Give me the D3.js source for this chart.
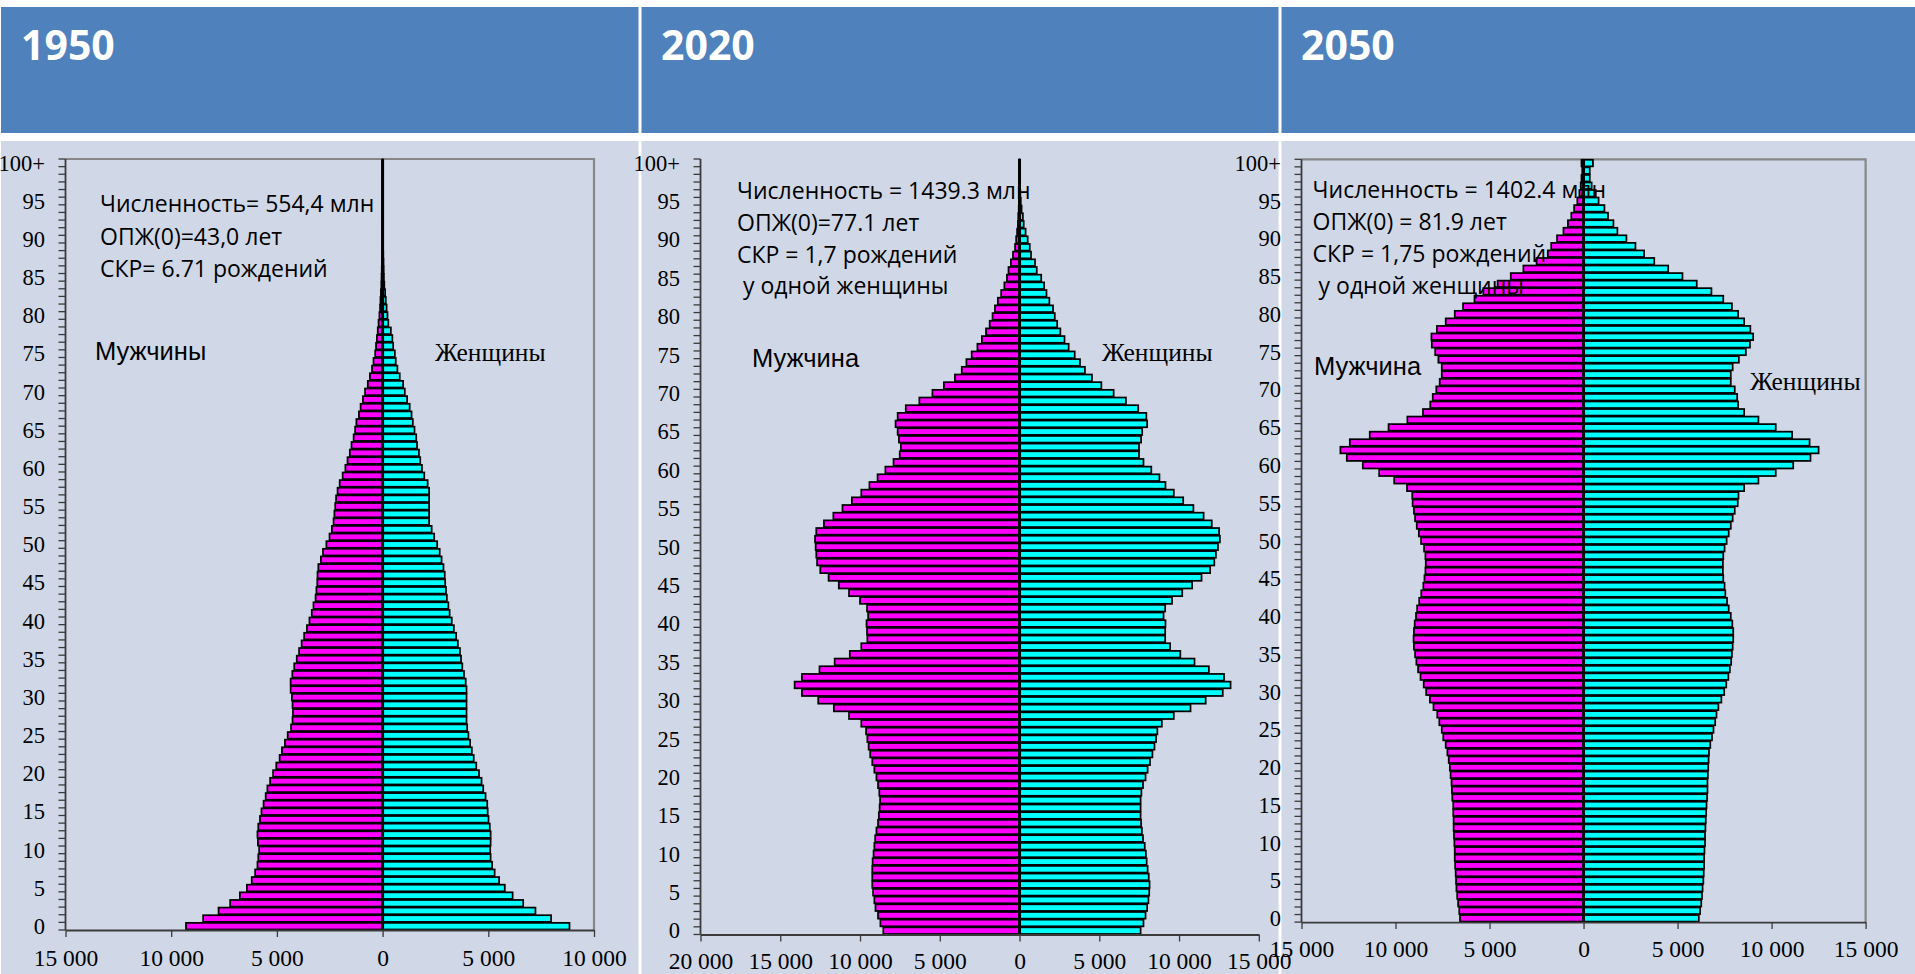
<!DOCTYPE html>
<html><head><meta charset="utf-8">
<script src="https://cdn.jsdelivr.net/npm/d3@7"></script>
<style>html,body{margin:0;padding:0;background:#fff;overflow:hidden}</style>
</head><body>
<svg id="chart" width="1915" height="974"></svg>
<script>
// ---------------- DATA (thousands of people, ages 0..100+) ----------------
const ages = [0,1,2,3,4,5,6,7,8,9,10,11,12,13,14,15,16,17,18,19,20,21,22,23,24,25,26,27,28,29,30,31,32,33,34,35,36,37,38,39,40,41,42,43,44,45,46,47,48,49,50,51,52,53,54,55,56,57,58,59,60,61,62,63,64,65,66,67,68,69,70,71,72,73,74,75,76,77,78,79,80,81,82,83,84,85,86,87,88,89,90,91,92,93,94,95,96,97,98,99,100];
const ageTickLabels = ["0","5","10","15","20","25","30","35","40","45","50","55","60","65","70","75","80","85","90","95","100+"];
const years = ["1950","2020","2050"];

const male1950 = [9300,8490,7760,7210,6750,6420,6190,6030,5920,5880,5840,5900,5920,5880,5800,5730,5630,5530,5450,5320,5180,5030,4870,4760,4620,4490,4330,4260,4240,4260,4290,4350,4350,4270,4180,4060,3950,3830,3710,3580,3460,3350,3270,3170,3130,3090,3080,3040,2920,2820,2660,2510,2400,2320,2280,2240,2200,2130,2030,1890,1760,1660,1550,1470,1370,1300,1240,1120,1040,930,830,700,600,500,430,350,310,270,230,190,150,120,100,80,60,50,40,30,25,20,15,12,10,8,6,5,4,3,2,1,1];
const female1950 = [8840,7970,7230,6650,6150,5780,5510,5300,5180,5110,5090,5110,5110,5070,5010,4970,4950,4870,4760,4680,4560,4430,4310,4220,4140,4060,4000,3970,3970,3970,3970,3970,3930,3850,3770,3710,3660,3560,3480,3370,3270,3170,3110,3040,3000,2960,2940,2880,2790,2700,2580,2440,2320,2200,2200,2200,2200,2200,2130,1970,1860,1780,1720,1630,1590,1510,1430,1370,1280,1160,1050,970,810,700,620,580,500,460,390,270,230,190,150,120,80,60,50,40,30,25,20,15,12,10,8,6,5,4,3,2,2];

const male2020 = [8540,8720,8870,9030,9100,9180,9230,9230,9230,9210,9150,9100,9050,8970,8870,8820,8770,8740,8790,8870,8970,9100,9230,9360,9460,9540,9620,9920,10690,11640,12620,13640,14100,13640,12540,11590,10640,9920,9540,9560,9590,9490,9560,10000,10690,11330,11970,12490,12690,12740,12780,12820,12740,12260,11670,11100,10510,9920,9410,8900,8410,7900,7510,7440,7560,7640,7770,7640,7130,6280,5460,4740,4050,3620,3330,3000,2640,2360,2100,1870,1690,1540,1360,1150,950,790,690,540,410,280,210,150,100,80,50,30,20,10,10,5,5];
const female2020 = [7590,7770,7900,8000,8080,8130,8150,8100,8030,7970,7920,7850,7740,7670,7620,7590,7590,7590,7640,7740,7900,8030,8180,8330,8460,8560,8640,8920,9670,10720,11670,12740,13230,12820,11870,10970,10080,9440,9130,9130,9150,9030,9130,9560,10200,10820,11410,11950,12210,12310,12440,12560,12510,12050,11540,10900,10260,9670,9150,8770,8260,7770,7490,7490,7620,7690,8000,7950,7440,6670,5900,5130,4540,4100,3790,3460,3080,2820,2560,2360,2210,2100,1870,1690,1540,1360,1080,970,720,640,510,380,260,210,130,80,50,30,20,10,10];

const male2050 = [6570,6610,6670,6720,6760,6780,6800,6830,6850,6850,6870,6890,6910,6910,6930,6930,6980,7000,7020,7070,7110,7170,7240,7330,7460,7540,7670,7780,7980,8170,8370,8500,8670,8800,8890,8960,9020,9040,9020,8980,8910,8850,8740,8630,8520,8460,8410,8390,8410,8480,8640,8760,8870,8960,9020,9090,9110,9390,10070,10870,11740,12590,12930,12430,11370,10370,9370,8540,8150,8020,7830,7650,7540,7540,7720,7890,8070,8090,7800,7330,6850,6410,5800,5330,4570,3870,3200,2500,1900,1720,1410,1070,830,650,500,330,220,150,110,70,110];
const female2050 = [6130,6200,6260,6300,6330,6370,6390,6410,6410,6430,6460,6460,6480,6500,6520,6540,6570,6590,6590,6610,6630,6650,6670,6740,6830,6910,7000,7070,7170,7330,7480,7590,7700,7780,7850,7890,7930,7960,7960,7910,7830,7720,7630,7540,7500,7430,7410,7410,7430,7500,7610,7720,7830,7930,8040,8200,8240,8540,9300,10220,11150,12070,12500,12020,11090,10220,9300,8540,8220,8170,8040,7830,7830,7930,8260,8630,8850,9020,8870,8540,8220,7890,7430,6800,6020,5260,4500,3760,3220,2760,2280,1800,1590,1300,1110,800,650,430,330,330,500];

const xTicks1950 = [-15000,-10000,-5000,0,5000,10000];
const xTicks2020 = [-20000,-15000,-10000,-5000,0,5000,10000,15000];
const xTicks2050 = [-15000,-10000,-5000,0,5000,10000,15000];

const notes1950 = ["Численность= 554,4 млн","ОПЖ(0)=43,0 лет","СКР= 6.71 рождений"];
const notes2020 = ["Численность = 1439.3 млн","ОПЖ(0)=77.1 лет","СКР = 1,7 рождений"," у одной женщины"];
const notes2050 = ["Численность = 1402.4 млн","ОПЖ(0) = 81.9 лет","СКР = 1,75 рождений"," у одной женщины"];
const maleLabels = ["Мужчины","Мужчина","Мужчина"];
const femaleLabels = ["Женщины","Женщины","Женщины"];

// ---------------- LAYOUT ----------------
const W = 1915, H = 974;
const BG = "#D0D8E8", HEAD = "#4F81BD";
const panelBoxes = [[1,638.5],[641.5,1278.5],[1281.5,1915]];
const layouts = [
  {male:male1950,female:female1950,ticks:xTicks1950,notes:notes1950,
   x0:65.5,x1:594,top:159,bottom:930,frame:true,labelY:965.5,
   noteX:100,noteY:[212,244.5,277],note4X:100,
   mX:95,mY:360,fX:435,fY:361,headX:21},
  {male:male2020,female:female2020,ticks:xTicks2020,notes:notes2020,
   x0:700.5,x1:1258.8,top:159,bottom:934.5,frame:false,labelY:969,
   noteX:737,noteY:[198.5,230.5,262.5,294],note4X:737,
   mX:752,mY:367,fX:1102,fY:360.5,headX:661},
  {male:male2050,female:female2050,ticks:xTicks2050,notes:notes2050,
   x0:1301.5,x1:1865.6,top:159.3,bottom:922.1,frame:true,labelY:957.5,
   noteX:1312.6,noteY:[197.5,229.5,261.5,293.5],note4X:1312.6,
   mX:1314,mY:375,fX:1750,fY:390,headX:1301}
];

const svg = d3.select("#chart");
svg.append("rect").attr("width",W).attr("height",H).attr("fill","#fff");

// backgrounds + headers
panelBoxes.forEach((b,i)=>{
  svg.append("rect").attr("x",b[0]).attr("y",7).attr("width",b[1]-b[0]).attr("height",126).attr("fill",HEAD);
  svg.append("rect").attr("x",b[0]).attr("y",141).attr("width",b[1]-b[0]).attr("height",H-141).attr("fill",BG);
  svg.append("text").attr("x",layouts[i].headX).attr("y",60)
    .attr("font-family","'Open Sans',sans-serif").attr("font-weight",700).attr("font-size",41)
    .attr("fill","#fff").text(years[i]);
});

const fmt = v => { const a = Math.abs(v); return a>=1000 ? d3.format(",")(a).replace(/,/g," ") : String(a); };

layouts.forEach((L,i)=>{
  const g = svg.append("g");
  const x = d3.scaleLinear().domain([L.ticks[0], L.ticks[L.ticks.length-1]]).range([L.x0, L.x1]);
  const y = d3.scaleBand().domain(ages.slice().reverse()).range([L.top, L.bottom]).paddingInner(0.13).paddingOuter(0.065);
  const step = y.step();

  if (L.frame) {
    g.append("path").attr("d",`M${L.x0},${L.top}H${L.x1}V${L.bottom}`)
      .attr("fill","none").attr("stroke","#878787").attr("stroke-width",2.2);
  }

  // bars
  g.selectAll("rect.m").data(ages).join("rect").attr("class","m")
    .attr("x",a=>x(-L.male[a])).attr("y",a=>y(a))
    .attr("width",a=>x(0)-x(-L.male[a])).attr("height",y.bandwidth())
    .attr("fill","#FF00FF").attr("stroke","#000").attr("stroke-width",1.75);
  g.selectAll("rect.f").data(ages).join("rect").attr("class","f")
    .attr("x",x(0)).attr("y",a=>y(a))
    .attr("width",a=>x(L.female[a])-x(0)).attr("height",y.bandwidth())
    .attr("fill","#00FFFF").attr("stroke","#000").attr("stroke-width",1.75);

  // center line
  g.append("line").attr("x1",x(0)).attr("x2",x(0)).attr("y1",L.top).attr("y2",L.bottom)
    .attr("stroke","#000").attr("stroke-width",3);

  // y axis (category axis: ticks between categories, labels at centers)
  const ax = "#3a3a3a";
  g.append("line").attr("x1",L.x0).attr("x2",L.x0).attr("y1",L.top).attr("y2",L.bottom)
    .attr("stroke",ax).attr("stroke-width",1.8);
  const bounds = ages.map(a=>y(a)-step*y.paddingInner()/2).concat([L.bottom]);
  g.selectAll("line.yt").data(bounds).join("line").attr("class","yt")
    .attr("x1",L.x0-7).attr("x2",L.x0).attr("y1",d=>d).attr("y2",d=>d)
    .attr("stroke",ax).attr("stroke-width",1.3);
  ageTickLabels.forEach(lab=>{
    const a = lab==="100+" ? 100 : +lab;
    g.append("text").attr("x",L.x0-20.5).attr("y",y(a)+y.bandwidth()/2+7.8)
      .attr("text-anchor","end").attr("font-family","'Liberation Serif','Times New Roman',serif")
      .attr("font-size",22.5).attr("fill","#000").text(lab);
  });

  // x axis
  const xa = g.append("g").attr("transform",`translate(0,${L.bottom})`)
    .call(d3.axisBottom(x).tickValues(L.ticks).tickSize(7).tickSizeOuter(0).tickFormat(fmt));
  xa.select(".domain").attr("stroke",ax).attr("stroke-width",1.8);
  xa.selectAll(".tick line").attr("stroke",ax).attr("stroke-width",1.3);
  xa.selectAll(".tick text").attr("y",L.labelY-L.bottom).attr("dy",0)
    .attr("font-family","'Liberation Serif','Times New Roman',serif").attr("font-size",23.5).attr("fill","#000");

  // notes
  L.notes.forEach((t,k)=>{
    g.append("text").attr("x",k===3?L.note4X:L.noteX).attr("y",L.noteY[k])
      .attr("font-family","'Open Sans',sans-serif").attr("font-size",23).attr("fill","#000")
      .attr("xml:space","preserve").style("white-space","pre").text(t);
  });
  g.append("text").attr("x",L.mX).attr("y",L.mY).attr("font-family","'Liberation Sans',Arial,sans-serif")
    .attr("font-size",25.5).attr("fill","#000").text(maleLabels[i]);
  g.append("text").attr("x",L.fX).attr("y",L.fY).attr("font-family","'Liberation Serif','Times New Roman',serif")
    .attr("font-size",25.5).attr("fill","#000").text(femaleLabels[i]);
});
</script>
</body></html>
